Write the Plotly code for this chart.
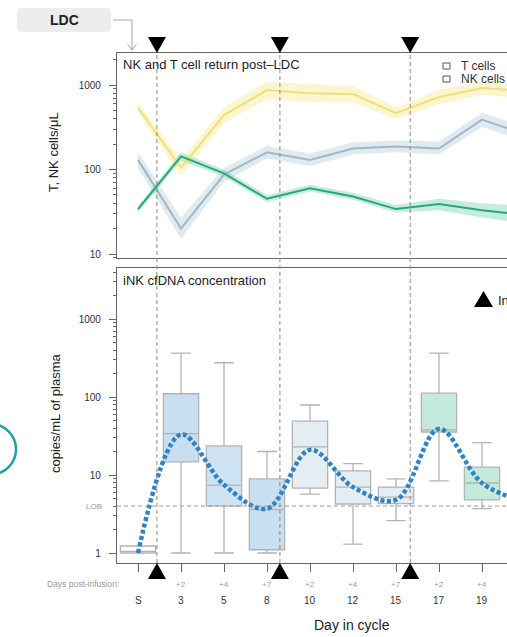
import plotly.graph_objects as go

# ---------------- data ----------------
days = ["S", "3", "5", "8", "10", "12", "15", "17", "19", "22"]
post_infusion = ["", "+2", "+4", "+7", "+2", "+4", "+7", "+2", "+4", "+7"]
day_idx = list(range(len(days)))

infusion_idx = [0.44, 3.30, 6.33]

t_cells = [540, 105, 440, 870, 800, 780, 465, 720, 920, 850]
t_lo = [470, 85, 360, 680, 630, 620, 400, 590, 760, 700]
t_hi = [620, 130, 540, 1100, 1020, 980, 540, 880, 1100, 1030]

nk_cells = [130, 20, 87, 160, 130, 177, 187, 177, 390, 260]
nk_lo = [105, 15, 72, 135, 110, 150, 160, 150, 320, 210]
nk_hi = [160, 27, 105, 190, 155, 210, 220, 215, 470, 320]

ink_cells = [34, 143, 90, 45, 60, 48, 34, 39, 33, 29]
ink_lo = [31, 128, 82, 41, 55, 44, 31, 33, 27, 23]
ink_hi = [37, 160, 99, 50, 66, 53, 38, 45, 40, 37]

box_q1 = [1.0, 14.7, 4.0, 1.1, 6.8, 4.25, 4.3, 35.6, 4.8]
box_med = [1.05, 34, 7.4, 3.6, 23, 7.0, 5.2, 38, 7.9]
box_q3 = [1.23, 110, 23.6, 8.9, 49, 11.3, 7.0, 112, 12.6]
box_lo = [1.0, 1.0, 1.0, 1.0, 5.7, 1.3, 2.6, 8.4, 3.7]
box_hi = [1.23, 365, 275, 20, 79, 14, 8.9, 365, 26]
box_fill = ["#ffffff", "#c8def1", "#cde2f3", "#c9dff2", "#e4edf1", "#e4edf1",
            "#e4edf1", "#c3eadb", "#c3eadb"]

cf_curve = [1, 33, 7.5, 3.7, 21, 7, 4.8, 39, 7.9, 4.5]
lob = 4

# ---------------- geometry helpers ----------------
W, H = 507, 637
ML, MR, MT, MB = 117, 0, 53, 74
PW, PH = W - ML - MR, H - MT - MB
BOT = H - MB


def fx(p):
    return (p - ML) / PW


def fy(p):
    return (BOT - p) / PH


X0, DX = 138, 43
xr = [(ML - X0) / DX, (W - X0) / DX]

FONT = "Liberation Sans, Arial, sans-serif"
AX = "#666666"

fig = go.Figure()

# ---------------- top panel ----------------
series = [
    ("T cells", t_cells, t_lo, t_hi, "#efe07a", "rgba(246,234,150,0.45)"),
    ("NK cells", nk_cells, nk_lo, nk_hi, "#a3b7c3", "rgba(175,205,220,0.40)"),
    ("iNK cells", ink_cells, ink_lo, ink_hi, "#28a67c", "rgba(110,210,170,0.40)"),
]
for name, v, lo, hi, lc, bc in series:
    fig.add_trace(go.Scatter(x=day_idx, y=hi, mode="lines", line=dict(width=0),
                             showlegend=False, hoverinfo="skip", xaxis="x", yaxis="y"))
    fig.add_trace(go.Scatter(x=day_idx, y=lo, mode="lines", line=dict(width=0),
                             fill="tonexty", fillcolor=bc, showlegend=False,
                             hoverinfo="skip", xaxis="x", yaxis="y"))
for name, v, lo, hi, lc, bc in series:
    fig.add_trace(go.Scatter(x=day_idx, y=v, mode="lines", name=name,
                             line=dict(color=lc, width=2), showlegend=False,
                             xaxis="x", yaxis="y"))

# ---------------- bottom panel ----------------
for i in range(len(box_q1)):
    fig.add_trace(go.Box(x=[day_idx[i]], q1=[box_q1[i]], median=[box_med[i]],
                         q3=[box_q3[i]], lowerfence=[box_lo[i]], upperfence=[box_hi[i]],
                         width=0.82, whiskerwidth=0.55, fillcolor=box_fill[i],
                         line=dict(color="#b3b3b3", width=1.3), boxpoints=False,
                         showlegend=False, xaxis="x2", yaxis="y2"))

fig.add_trace(go.Scatter(x=day_idx, y=cf_curve, mode="lines",
                         line=dict(color="#2f82c4", width=4.5, shape="spline",
                                   smoothing=1.0, dash="4px,2.5px"),
                         showlegend=False, xaxis="x2", yaxis="y2"))

# ---------------- axes ----------------
def minor_vals(lo_dec, hi_dec):
    return [m * 10 ** d for d in range(lo_dec, hi_dec) for m in range(2, 10)]


yax_common = dict(type="log", showgrid=False, zeroline=False, showline=True,
                  linecolor=AX, linewidth=1.2, ticks="outside", ticklen=7,
                  tickcolor=AX, tickfont=dict(family=FONT, size=10, color="#333"),
                  ticklabelstandoff=6, mirror=False)
fig.update_layout(
    xaxis=dict(domain=[0, 1], anchor="y", range=xr, showgrid=False, zeroline=False,
               showline=True, mirror=True, linecolor=AX, linewidth=1.2,
               showticklabels=False, ticks=""),
    yaxis=dict(domain=[fy(258), 1], anchor="x", range=[3 - (258 - 85) / 84.5, 3 + (85 - 53) / 84.5],
               tickvals=[10, 100, 1000], ticktext=["10", "100", "1000"],
               minor=dict(ticks="outside", ticklen=3, tickcolor=AX,
                          tickvals=minor_vals(0, 4)),
               **yax_common),
    xaxis2=dict(domain=[0, 1], anchor="y2", range=xr, showgrid=False, zeroline=False,
                showline=True, mirror=True, linecolor=AX, linewidth=1.2,
                tickvals=day_idx[:9], ticks="outside", ticklen=8, tickcolor=AX,
                showticklabels=False),
    yaxis2=dict(domain=[0, fy(268)], anchor="x2", range=[-(563 - 553) / 78, 3 + (319 - 268) / 78],
                tickvals=[1, 10, 100, 1000], ticktext=["1", "10", "100", "1000"],
                minor=dict(ticks="outside", ticklen=3, tickcolor=AX,
                           tickvals=minor_vals(0, 4)),
                **yax_common),
    boxmode="overlay",
)

shapes = []
ann = []

# infusion dashed lines and triangles
hw = 9 / DX
for xi in infusion_idx:
    shapes.append(dict(type="line", xref="x", yref="paper", x0=xi, x1=xi, y0=0, y1=1,
                       line=dict(color="#8a8a8a", width=1, dash="4px,3px")))
    shapes.append(dict(type="path", xref="x", yref="paper",
                       path=f"M{xi-hw},{fy(37)} L{xi+hw},{fy(37)} L{xi},{fy(53)} Z",
                       fillcolor="black", line=dict(width=0)))
    shapes.append(dict(type="path", xref="x", yref="paper",
                       path=f"M{xi-hw},{fy(579)} L{xi+hw},{fy(579)} L{xi},{fy(563)} Z",
                       fillcolor="black", line=dict(width=0)))

# LOB line
shapes.append(dict(type="line", xref="paper", yref="y2", x0=0, x1=1, y0=lob, y1=lob,
                   line=dict(color="#9a9a9a", width=1, dash="4px,3px")))
ann.append(dict(xref="paper", yref="y2", x=fx(104), y=0.602, text="LOB", showarrow=False,
                xanchor="right", yanchor="middle",
                font=dict(family=FONT, size=8, color="#999")))

# panel titles
ann.append(dict(xref="paper", yref="paper", x=fx(121), y=fy(64), text="NK and T cell return post\u2013LDC",
                showarrow=False, xanchor="left", yanchor="middle",
                font=dict(family=FONT, size=13, color="#222")))
ann.append(dict(xref="paper", yref="paper", x=fx(121), y=fy(280), text="iNK cfDNA concentration",
                showarrow=False, xanchor="left", yanchor="middle",
                font=dict(family=FONT, size=13, color="#222")))

# y titles
ann.append(dict(xref="paper", yref="paper", x=fx(53), y=fy(152), text="T, NK cells/\u03bcL",
                textangle=-90, showarrow=False, xanchor="center", yanchor="middle",
                font=dict(family=FONT, size=13, color="#222")))
ann.append(dict(xref="paper", yref="paper", x=fx(56), y=fy(413), text="copies/mL of plasma",
                textangle=-90, showarrow=False, xanchor="center", yanchor="middle",
                font=dict(family=FONT, size=13, color="#222")))

# legend (top panel)
for k, (lab, yy) in enumerate([("T cells", 66), ("NK cells", 79)]):
    shapes.append(dict(type="rect", xref="paper", yref="paper", x0=fx(443), x1=fx(450),
                       y0=fy(yy + 3), y1=fy(yy - 3), line=dict(color="#555", width=1),
                       fillcolor="rgba(0,0,0,0)"))
    ann.append(dict(xref="paper", yref="paper", x=fx(459), y=fy(yy), text=lab,
                    showarrow=False, xanchor="left", yanchor="middle",
                    font=dict(family=FONT, size=12, color="#333")))

# infusion legend (bottom panel)
shapes.append(dict(type="path", xref="paper", yref="paper",
                   path=f"M{fx(474)},{fy(307)} L{fx(493)},{fy(307)} L{fx(483.5)},{fy(291)} Z",
                   fillcolor="black", line=dict(width=0)))
ann.append(dict(xref="paper", yref="paper", x=fx(496), y=fy(300), text="Infusion",
                showarrow=False, xanchor="left", yanchor="middle",
                font=dict(family=FONT, size=13, color="#222")))

# x tick label rows
for i in day_idx:
    if i > xr[1]:
        continue
    ann.append(dict(xref="x2", yref="paper", x=i, y=fy(600), text=days[i], showarrow=False,
                    xanchor="center", yanchor="middle",
                    font=dict(family=FONT, size=10, color="#333")))
    if post_infusion[i]:
        ann.append(dict(xref="x2", yref="paper", x=i, y=fy(584), text=post_infusion[i],
                        showarrow=False, xanchor="center", yanchor="middle",
                        font=dict(family=FONT, size=8, color="#9a9a9a")))
ann.append(dict(xref="paper", yref="paper", x=fx(121), y=fy(584), text="Days post-infusion:",
                showarrow=False, xanchor="right", yanchor="middle",
                font=dict(family=FONT, size=8.5, color="#9a9a9a")))
ann.append(dict(xref="paper", yref="paper", x=fx(352), y=fy(625), text="Day in cycle",
                showarrow=False, xanchor="center", yanchor="middle",
                font=dict(family=FONT, size=14, color="#222")))

# LDC box and arrow
r = 5
x0p, x1p, y0p, y1p = 17, 111, 8, 32
path = (f"M{fx(x0p+r)},{fy(y0p)} L{fx(x1p-r)},{fy(y0p)} Q{fx(x1p)},{fy(y0p)} {fx(x1p)},{fy(y0p+r)} "
        f"L{fx(x1p)},{fy(y1p-r)} Q{fx(x1p)},{fy(y1p)} {fx(x1p-r)},{fy(y1p)} "
        f"L{fx(x0p+r)},{fy(y1p)} Q{fx(x0p)},{fy(y1p)} {fx(x0p)},{fy(y1p-r)} "
        f"L{fx(x0p)},{fy(y0p+r)} Q{fx(x0p)},{fy(y0p)} {fx(x0p+r)},{fy(y0p)} Z")
shapes.append(dict(type="path", xref="paper", yref="paper", path=path,
                   fillcolor="#ececec", line=dict(width=0)))
ann.append(dict(xref="paper", yref="paper", x=fx(64), y=fy(20), text="<b>LDC</b>",
                showarrow=False, xanchor="center", yanchor="middle",
                font=dict(family=FONT, size=14, color="#222")))
shapes.append(dict(type="path", xref="paper", yref="paper",
                   path=f"M{fx(113)},{fy(20)} L{fx(132)},{fy(20)} L{fx(132)},{fy(50)}",
                   line=dict(color="#a8a8a8", width=1)))
shapes.append(dict(type="path", xref="paper", yref="paper",
                   path=f"M{fx(127.5)},{fy(44)} L{fx(132)},{fy(50)} L{fx(136.5)},{fy(44)}",
                   line=dict(color="#a8a8a8", width=1)))

# partial circle at far left (cut-off neighbouring panel)
shapes.append(dict(type="circle", xref="paper", yref="paper",
                   x0=fx(-34.5), x1=fx(16), y0=fy(474.5), y1=fy(424),
                   line=dict(color="#22a0a8", width=2.5), fillcolor="rgba(0,0,0,0)"))

fig.update_layout(
    width=W, height=H,
    margin=dict(l=ML, r=MR, t=MT, b=MB, pad=0),
    paper_bgcolor="white", plot_bgcolor="white",
    shapes=shapes, annotations=ann, showlegend=False,
    font=dict(family=FONT),
)

fig.write_html("out.html")
